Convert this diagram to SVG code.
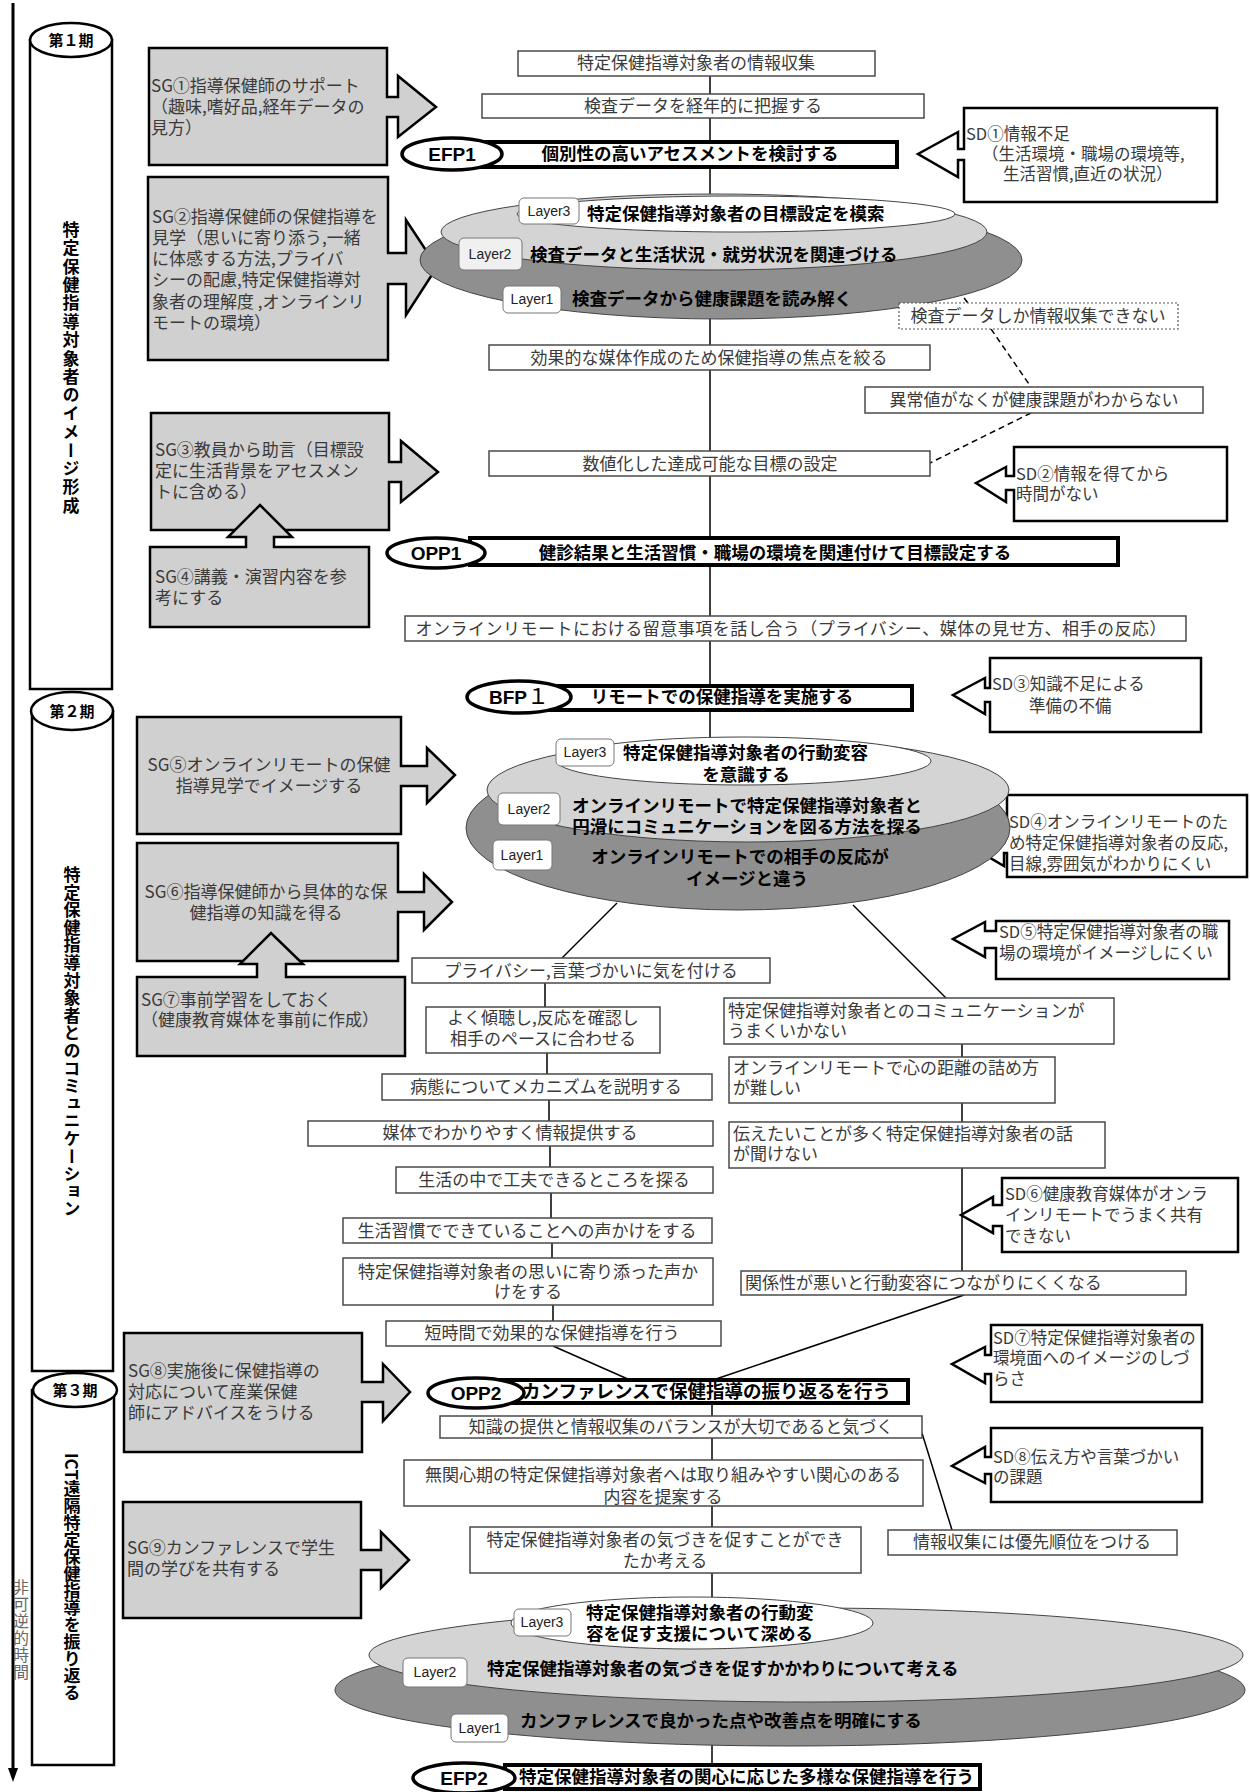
<svg xmlns="http://www.w3.org/2000/svg" width="1250" height="1792" viewBox="0 0 1250 1792">
<defs>
<style>
text{font-family:"Noto Sans CJK JP","Noto Sans CJK SC",sans-serif}
.t{font-size:17px;fill:#3a3a3a}
.s{font-size:16.5px;fill:#3a3a3a}
.c{text-anchor:middle}
.b{font-weight:bold;fill:#000;font-size:17.5px}
.sg{fill:#d0d0d0;stroke:#000;stroke-width:2.5}
.sd{fill:#fff;stroke:#000;stroke-width:2.5}
.bx{fill:#fff;stroke:#4a4a4a;stroke-width:1.5}
.dbx{fill:#fff;stroke:#555;stroke-width:1.2;stroke-dasharray:2 2}
.bar{fill:#fff;stroke:#000;stroke-width:4}
.ell{fill:#fff;stroke:#000;stroke-width:3.5}
.et{font-family:"Liberation Sans",sans-serif;font-weight:bold;font-size:19px;text-anchor:middle}
.lbl{fill:#fff;stroke:#777;stroke-width:1}
.lt{font-family:"Liberation Sans",sans-serif;font-size:14px;fill:#222;text-anchor:middle}
.ln{stroke:#000;stroke-width:1.5;fill:none}
.dash{stroke:#000;stroke-width:1.5;stroke-dasharray:6 4;fill:none}
.dk{fill:#8f8f8f;stroke:#444;stroke-width:1}
.lg{fill:#d4d4d4;stroke:#444;stroke-width:1}
.wh{fill:#fff;stroke:#444;stroke-width:1}
.ph{fill:#fff;stroke:#000;stroke-width:2.5}
.pt{font-weight:bold;font-size:15px;fill:#000;text-anchor:middle}
.vt{font-weight:bold;font-size:17px;fill:#000;writing-mode:vertical-rl;text-anchor:middle}
</style>
</defs>
<rect width="1250" height="1792" fill="#fff"/>

<!-- time axis -->
<g id="time-axis">
<line x1="13" y1="3" x2="13" y2="1770" stroke="#000" stroke-width="3"/>
<polygon points="8,1768 18,1768 13,1782" fill="#000"/>
<text x="21" y="1630" style="writing-mode:vertical-rl;font-size:16px;fill:#666;text-anchor:middle;letter-spacing:1px">非可逆的時間</text>
</g>

<!-- phases -->
<g id="phase1">
<rect x="30" y="40" width="82" height="649" class="ph"/>
<ellipse cx="71" cy="40" rx="41" ry="17" class="ph"/>
<text x="71" y="46" class="pt">第１期</text>
<text x="71" y="368" class="vt" style="letter-spacing:1.4px">特定保健指導対象者のイメージ形成</text>
</g>
<g id="phase2">
<rect x="32" y="711" width="81" height="660" class="ph"/>
<ellipse cx="72" cy="711" rx="41" ry="19" class="ph"/>
<text x="72" y="717" class="pt">第２期</text>
<text x="72" y="1042" class="vt" style="letter-spacing:0.6px">特定保健指導対象者とのコミュニケーション</text>
</g>
<g id="phase3">
<rect x="32" y="1390" width="82" height="375" class="ph"/>
<ellipse cx="75" cy="1390" rx="42" ry="17" class="ph"/>
<text x="75" y="1396" class="pt">第３期</text>
<text x="72" y="1577" class="vt">ICT遠隔特定保健指導を振り返る</text>
</g>

<!-- connectors -->
<g id="connectors">
<line class="ln" x1="710" y1="76" x2="710" y2="94"/>
<line class="ln" x1="710" y1="118" x2="710" y2="142"/>
<line class="ln" x1="710" y1="167" x2="710" y2="200"/>
<line class="ln" x1="710" y1="315" x2="710" y2="345"/>
<line class="ln" x1="710" y1="370" x2="710" y2="451"/>
<line class="ln" x1="710" y1="476" x2="710" y2="538"/>
<line class="ln" x1="710" y1="565" x2="710" y2="616"/>
<line class="ln" x1="710" y1="641" x2="710" y2="686"/>
<line class="ln" x1="710" y1="710" x2="710" y2="740"/>
<line class="dash" x1="958" y1="290" x2="968" y2="303"/>
<line class="dash" x1="991" y1="329" x2="1031" y2="387"/>
<line class="dash" x1="1031" y1="413" x2="930" y2="463"/>
<line class="ln" x1="617" y1="903" x2="562" y2="958"/>
<line class="ln" x1="853" y1="905" x2="946" y2="998"/>
<line class="ln" x1="545" y1="983" x2="545" y2="1007"/>
<line class="ln" x1="547" y1="1053" x2="547" y2="1074"/>
<line class="ln" x1="549" y1="1100" x2="549" y2="1121"/>
<line class="ln" x1="550" y1="1146" x2="550" y2="1167"/>
<line class="ln" x1="551" y1="1193" x2="551" y2="1218"/>
<line class="ln" x1="552" y1="1243" x2="552" y2="1258"/>
<line class="ln" x1="553" y1="1305" x2="553" y2="1321"/>
<line class="ln" x1="962" y1="1044" x2="962" y2="1057"/>
<line class="ln" x1="962" y1="1103" x2="962" y2="1122"/>
<line class="ln" x1="962" y1="1168" x2="962" y2="1271"/>
<line class="ln" x1="553" y1="1346" x2="630" y2="1380"/>
<line class="ln" x1="964" y1="1295" x2="713" y2="1380"/>
<line class="ln" x1="712" y1="1403" x2="712" y2="1416"/>
<line class="ln" x1="712" y1="1438" x2="712" y2="1460"/>
<line class="ln" x1="712" y1="1506" x2="712" y2="1527"/>
<line class="ln" x1="712" y1="1573" x2="712" y2="1600"/>
<line class="ln" x1="712" y1="1744" x2="712" y2="1765"/>
<line class="ln" x1="922" y1="1433" x2="952" y2="1530"/>
</g>

<!-- SG boxes -->
<g id="sg1">
<path class="sg" d="M149,48 H387 V97 H398 V76 L436,107 L398,137 V117 H387 V165 H149 Z"/>
<text class="t" x="151" y="92">SG①指導保健師のサポート</text>
<text class="t" x="151" y="113">（趣味,嗜好品,経年データの</text>
<text class="t" x="151" y="134">見方）</text>
</g>
<g id="sg2">
<path class="sg" d="M148,177 H388 V253 H406 V220 L437,267 L406,315 V284 H388 V360 H148 Z"/>
<text class="t" x="152" y="223">SG②指導保健師の保健指導を</text>
<text class="t" x="152" y="244">見学（思いに寄り添う,一緒</text>
<text class="t" x="152" y="265">に体感する方法,プライバ</text>
<text class="t" x="152" y="286">シーの配慮,特定保健指導対</text>
<text class="t" x="152" y="308">象者の理解度 ,オンラインリ</text>
<text class="t" x="152" y="329">モートの環境）</text>
</g>
<g id="sg3">
<path class="sg" d="M151,413 H389 V462 H401 V441 L438,472 L401,502 V482 H389 V530 H151 Z"/>
<text class="t" x="155" y="456">SG③教員から助言（目標設</text>
<text class="t" x="155" y="477">定に生活背景をアセスメン</text>
<text class="t" x="155" y="498">トに含める）</text>
</g>
<g id="sg4">
<path class="sg" d="M150,547 H246 V537 H228 L260,505 L292,537 H274 V547 H369 V627 H150 Z"/>
<text class="t" x="155" y="583">SG④講義・演習内容を参</text>
<text class="t" x="155" y="604">考にする</text>
</g>
<g id="sg5">
<path class="sg" d="M137,717 H401 V766 H427 V748 L455,775 L427,803 V786 H401 V834 H137 Z"/>
<text class="t c" x="269" y="771">SG⑤オンラインリモートの保健</text>
<text class="t c" x="269" y="792">指導見学でイメージする</text>
</g>
<g id="sg6">
<path class="sg" d="M137,843 H398 V892 H424 V874 L452,902 L424,930 V912 H398 V961 H137 Z"/>
<text class="t c" x="266" y="898">SG⑥指導保健師から具体的な保</text>
<text class="t c" x="266" y="919">健指導の知識を得る</text>
</g>
<g id="sg7">
<path class="sg" d="M137,977 H257 V964 H240 L271,933 L303,964 H286 V977 H405 V1056 H137 Z"/>
<text class="t" x="141" y="1006">SG⑦事前学習をしておく</text>
<text class="t" x="141" y="1026">（健康教育媒体を事前に作成）</text>
</g>
<g id="sg8">
<path class="sg" d="M124,1333 H362 V1382 H383 V1364 L410,1392 L383,1421 V1402 H362 V1452 H124 Z"/>
<text class="t" x="128" y="1377">SG⑧実施後に保健指導の</text>
<text class="t" x="128" y="1398">対応について産業保健</text>
<text class="t" x="128" y="1419">師にアドバイスをうける</text>
</g>
<g id="sg9">
<path class="sg" d="M123,1502 H361 V1550 H381 V1532 L409,1560 L381,1588 V1570 H361 V1618 H123 Z"/>
<text class="t" x="127" y="1554">SG⑨カンファレンスで学生</text>
<text class="t" x="127" y="1575">間の学びを共有する</text>
</g>

<!-- SD boxes -->
<g id="sd1">
<path class="sd" d="M964,108 H1217 V202 H964 V160 H958 V177 L918,154 L958,132 V149 H964 Z"/>
<text class="s" x="966" y="140">SD①情報不足</text>
<text class="s" x="982" y="160">（生活環境・職場の環境等,</text>
<text class="s" x="1003" y="180">生活習慣,直近の状況）</text>
</g>
<g id="sd2">
<path class="sd" d="M1014,447 H1227 V521 H1014 V490 H1006 V502 L976,483 L1006,467 V476 H1014 Z"/>
<text class="s" x="1016" y="480">SD②情報を得てから</text>
<text class="s" x="1016" y="500">時間がない</text>
</g>
<g id="sd3">
<path class="sd" d="M990,658 H1201 V732 H990 V702 H985 V714 L953,695 L985,678 V688 H990 Z"/>
<text class="s" x="992" y="690">SD③知識不足による</text>
<text class="s" x="1029" y="712">準備の不備</text>
</g>
<g id="sd4">
<path class="sd" d="M1007,795 H1247 V877 H1007 V853 H1004 V866 L965,843 L1004,822 V833 H1007 Z"/>
<text class="s" x="1009" y="828">SD④オンラインリモートのた</text>
<text class="s" x="1009" y="849">め特定保健指導対象者の反応,</text>
<text class="s" x="1009" y="870">目線,雰囲気がわかりにくい</text>
</g>
<g id="sd5">
<path class="sd" d="M996,921 H1229 V979 H996 V948 H985 V957 L953,939 L985,922 V931 H996 Z"/>
<text class="s" x="999" y="938">SD⑤特定保健指導対象者の職</text>
<text class="s" x="999" y="959">場の環境がイメージしにくい</text>
</g>
<g id="sd6">
<path class="sd" d="M1002,1178 H1238 V1252 H1002 V1226 H993 V1233 L961,1215 L993,1197 V1205 H1002 Z"/>
<text class="s" x="1005" y="1200">SD⑥健康教育媒体がオンラ</text>
<text class="s" x="1005" y="1221">インリモートでうまく共有</text>
<text class="s" x="1005" y="1242">できない</text>
</g>
<g id="sd7">
<path class="sd" d="M991,1325 H1202 V1402 H991 V1374 H985 V1383 L952,1364 L985,1347 V1355 H991 Z"/>
<text class="s" x="993" y="1344">SD⑦特定保健指導対象者の</text>
<text class="s" x="993" y="1364">環境面へのイメージのしづ</text>
<text class="s" x="993" y="1385">らさ</text>
</g>
<g id="sd8">
<path class="sd" d="M991,1428 H1202 V1502 H991 V1474 H985 V1483 L952,1466 L985,1447 V1457 H991 Z"/>
<text class="s" x="993" y="1463">SD⑧伝え方や言葉づかい</text>
<text class="s" x="993" y="1483">の課題</text>
</g>

<!-- phase 1 flow -->
<g id="n-info"><rect class="bx" x="518" y="51" width="357" height="25"/><text class="t c" x="696" y="69">特定保健指導対象者の情報収集</text></g>
<g id="n-data"><rect class="bx" x="482" y="94" width="442" height="24"/><text class="t c" x="703" y="112">検査データを経年的に把握する</text></g>
<g id="efp1">
<rect class="bar" x="480" y="142" width="417" height="25"/>
<ellipse class="ell" cx="452" cy="154" rx="50" ry="16"/>
<text class="et" x="452" y="161">EFP1</text>
<text class="b c" x="690" y="160">個別性の高いアセスメントを検討する</text>
</g>
<g id="disk1">
<ellipse class="dk" cx="721" cy="260" rx="301" ry="59"/>
<ellipse class="lg" cx="714" cy="232" rx="273" ry="38"/>
<ellipse class="wh" cx="736" cy="214" rx="219" ry="18"/>
<rect class="lbl" x="519" y="198" width="60" height="26" rx="5"/><text class="lt" x="549" y="216">Layer3</text>
<text class="b" x="587" y="220">特定保健指導対象者の目標設定を模索</text>
<rect class="lbl" x="459" y="238" width="63" height="32" rx="5" style="fill:#f0f0f0"/><text class="lt" x="490" y="259">Layer2</text>
<text class="b" x="530" y="261">検査データと生活状況・就労状況を関連づける</text>
<rect class="lbl" x="503" y="286" width="58" height="27" rx="5"/><text class="lt" x="532" y="304">Layer1</text>
<text class="b" x="572" y="305">検査データから健康課題を読み解く</text>
</g>
<g id="n-only"><rect class="dbx" x="899" y="303" width="279" height="26"/><text class="t c" x="1038" y="322">検査データしか情報収集できない</text></g>
<g id="n-focus"><rect class="bx" x="489" y="345" width="441" height="25"/><text class="t c" x="709" y="364">効果的な媒体作成のため保健指導の焦点を絞る</text></g>
<g id="n-abn"><rect class="bx" x="865" y="387" width="338" height="26"/><text class="t c" x="1034" y="406">異常値がなくが健康課題がわからない</text></g>
<g id="n-goal"><rect class="bx" x="489" y="451" width="441" height="25"/><text class="t c" x="710" y="470">数値化した達成可能な目標の設定</text></g>
<g id="opp1">
<rect class="bar" x="470" y="538" width="648" height="27"/>
<ellipse class="ell" cx="436" cy="553" rx="49" ry="15"/>
<text class="et" x="436" y="560">OPP1</text>
<text class="b c" x="775" y="559">健診結果と生活習慣・職場の環境を関連付けて目標設定する</text>
</g>
<g id="n-online"><rect class="bx" x="405" y="616" width="781" height="25"/><text class="t c" x="791" y="635" textLength="751">オンラインリモートにおける留意事項を話し合う（プライバシー、媒体の見せ方、相手の反応）</text></g>

<!-- phase 2 flow -->
<g id="bfp1">
<rect class="bar" x="545" y="686" width="367" height="24"/>
<ellipse class="ell" cx="519" cy="697" rx="52" ry="16"/>
<text class="et" x="519" y="704">BFP<tspan style="font-family:'Noto Sans CJK JP';font-weight:normal;font-size:22px">１</tspan></text>
<text class="b c" x="722" y="703">リモートでの保健指導を実施する</text>
</g>
<g id="disk2">
<ellipse class="dk" cx="738" cy="828" rx="272" ry="82"/>
<ellipse class="lg" cx="748" cy="790" rx="261" ry="52"/>
<ellipse class="wh" cx="744" cy="761" rx="187" ry="24"/>
<rect class="lbl" x="556" y="739" width="58" height="27" rx="5"/><text class="lt" x="585" y="757">Layer3</text>
<text class="b" x="623" y="759">特定保健指導対象者の行動変容</text>
<text class="b c" x="746" y="781">を意識する</text>
<rect class="lbl" x="498" y="793" width="62" height="32" rx="5"/><text class="lt" x="529" y="814">Layer2</text>
<text class="b c" x="747" y="812">オンラインリモートで特定保健指導対象者と</text>
<text class="b c" x="747" y="833">円滑にコミュニケーションを図る方法を探る</text>
<rect class="lbl" x="493" y="840" width="59" height="30" rx="5"/><text class="lt" x="522" y="860">Layer1</text>
<text class="b c" x="740" y="863">オンラインリモートでの相手の反応が</text>
<text class="b c" x="747" y="885">イメージと違う</text>
</g>
<g id="n-l1"><rect class="bx" x="412" y="958" width="358" height="25"/><text class="t c" x="591" y="977">プライバシー,言葉づかいに気を付ける</text></g>
<g id="n-l2"><rect class="bx" x="426" y="1007" width="234" height="46"/><text class="t c" x="543" y="1024">よく傾聴し,反応を確認し</text><text class="t c" x="543" y="1045">相手のペースに合わせる</text></g>
<g id="n-l3"><rect class="bx" x="382" y="1074" width="330" height="26"/><text class="t c" x="546" y="1093">病態についてメカニズムを説明する</text></g>
<g id="n-l4"><rect class="bx" x="308" y="1121" width="405" height="25"/><text class="t c" x="510" y="1139">媒体でわかりやすく情報提供する</text></g>
<g id="n-l5"><rect class="bx" x="396" y="1167" width="317" height="26"/><text class="t c" x="554" y="1186">生活の中で工夫できるところを探る</text></g>
<g id="n-l6"><rect class="bx" x="343" y="1218" width="369" height="25"/><text class="t c" x="527" y="1237">生活習慣でできていることへの声かけをする</text></g>
<g id="n-l7"><rect class="bx" x="343" y="1258" width="370" height="47"/><text class="t c" x="528" y="1278">特定保健指導対象者の思いに寄り添った声か</text><text class="t c" x="528" y="1298">けをする</text></g>
<g id="n-l8"><rect class="bx" x="386" y="1321" width="335" height="25"/><text class="t c" x="552" y="1339">短時間で効果的な保健指導を行う</text></g>
<g id="n-r1"><rect class="bx" x="724" y="998" width="390" height="46"/><text class="t" x="728" y="1017">特定保健指導対象者とのコミュニケーションが</text><text class="t" x="728" y="1037">うまくいかない</text></g>
<g id="n-r2"><rect class="bx" x="729" y="1057" width="326" height="46"/><text class="t" x="733" y="1074">オンラインリモートで心の距離の詰め方</text><text class="t" x="733" y="1094">が難しい</text></g>
<g id="n-r3"><rect class="bx" x="729" y="1122" width="376" height="46"/><text class="t" x="733" y="1140">伝えたいことが多く特定保健指導対象者の話</text><text class="t" x="733" y="1160">が聞けない</text></g>
<g id="n-r4"><rect class="bx" x="741" y="1271" width="445" height="24"/><text class="t" x="745" y="1289">関係性が悪いと行動変容につながりにくくなる</text></g>

<!-- phase 3 flow -->
<g id="opp2">
<rect class="bar" x="500" y="1380" width="408" height="23"/>
<ellipse class="ell" cx="476" cy="1393" rx="48" ry="15"/>
<text class="et" x="476" y="1400">OPP2</text>
<text class="b" x="522" y="1398" style="font-size:18.5px">カンファレンスで保健指導の振り返るを行う</text>
</g>
<g id="n-p1"><rect class="bx" x="440" y="1416" width="482" height="22"/><text class="t c" x="681" y="1433">知識の提供と情報収集のバランスが大切であると気づく</text></g>
<g id="n-p2"><rect class="bx" x="404" y="1460" width="519" height="46"/><text class="t c" x="663" y="1481">無関心期の特定保健指導対象者へは取り組みやすい関心のある</text><text class="t c" x="663" y="1503">内容を提案する</text></g>
<g id="n-p3"><rect class="bx" x="470" y="1527" width="391" height="46"/><text class="t c" x="665" y="1546">特定保健指導対象者の気づきを促すことができ</text><text class="t c" x="665" y="1567">たか考える</text></g>
<g id="n-p4"><rect class="bx" x="888" y="1530" width="289" height="25"/><text class="t c" x="1032" y="1548">情報収集には優先順位をつける</text></g>
<g id="disk3">
<ellipse class="dk" cx="790" cy="1690" rx="455" ry="56"/>
<ellipse class="lg" cx="806" cy="1655" rx="437" ry="47"/>
<ellipse class="wh" cx="692" cy="1623" rx="181" ry="26"/>
<rect class="lbl" x="514" y="1609" width="57" height="27" rx="5"/><text class="lt" x="542" y="1627">Layer3</text>
<text class="b" x="586" y="1619">特定保健指導対象者の行動変</text>
<text class="b" x="586" y="1640">容を促す支援について深める</text>
<rect class="lbl" x="403" y="1658" width="64" height="29" rx="5"/><text class="lt" x="435" y="1677">Layer2</text>
<text class="b" x="487" y="1675">特定保健指導対象者の気づきを促すかかわりについて考える</text>
<rect class="lbl" x="451" y="1714" width="57" height="28" rx="5"/><text class="lt" x="480" y="1733">Layer1</text>
<text class="b" x="520" y="1727">カンファレンスで良かった点や改善点を明確にする</text>
</g>
<g id="efp2">
<rect class="bar" x="505" y="1765" width="475" height="24"/>
<ellipse class="ell" cx="464" cy="1778" rx="51" ry="15"/>
<text class="et" x="464" y="1785">EFP2</text>
<text class="b" x="519" y="1783">特定保健指導対象者の関心に応じた多様な保健指導を行う</text>
</g>
</svg>
